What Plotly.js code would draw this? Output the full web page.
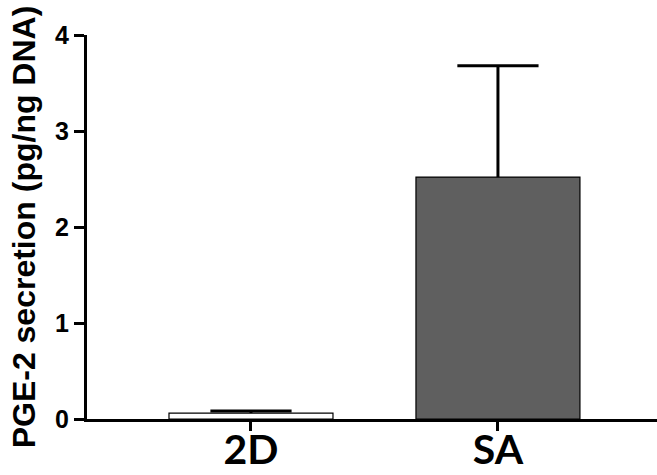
<!DOCTYPE html>
<html><head><meta charset="utf-8">
<script src="https://cdn.plot.ly/plotly-3.0.1.min.js"></script>
<style>html,body{margin:0;padding:0;background:#fff;}#c{width:657px;height:475px;}</style>
</head><body><div id="c"></div>
<script>
const categories = ['2D', 'SA'];
const means = [0.062, 2.52];
const errUp = [0.021, 1.16];
const barColors = ['#ffffff', '#5f5f5f'];
const yTicks = [0, 1, 2, 3, 4];

const xIdx = categories.map((c, i) => i);
const tops = means.map((m, i) => m + errUp[i]);

const bars = {
  type: 'bar',
  x: xIdx,
  y: means,
  width: 0.664,
  marker: {color: barColors, line: {color: '#000', width: 1.2}},
  hoverinfo: 'none'
};

// vertical whisker segments built from the data
const segX = [], segY = [];
xIdx.forEach((x, i) => { segX.push(x, x, null); segY.push(means[i], tops[i], null); });
const whiskers = {
  type: 'scatter', mode: 'lines', x: segX, y: segY,
  line: {color: '#000', width: 3}, hoverinfo: 'none', cliponaxis: false
};
const caps = {
  type: 'scatter', mode: 'markers', x: xIdx, y: tops,
  marker: {symbol: 'line-ew', size: 58, line: {color: '#000', width: 3}},
  hoverinfo: 'none', cliponaxis: false
};

const layout = {
  width: 657, height: 475,
  margin: {l: 87, r: 0, t: 35, b: 56},
  paper_bgcolor: '#fff', plot_bgcolor: '#fff',
  showlegend: false,
  xaxis: {
    range: [-0.664, 1.644],
    tickvals: xIdx, ticktext: categories,
    ticks: 'outside', ticklen: 9, tickwidth: 3, tickcolor: '#000',
    ticklabelstandoff: -16,
    showline: true, linecolor: '#000', linewidth: 3,
    showgrid: false, zeroline: false,
    tickfont: {family: 'Lato, Open Sans, sans-serif', size: 41, color: '#000', weight: 'bold'}
  },
  yaxis: {
    range: [0, 4],
    tickvals: yTicks,
    ticks: 'outside', ticklen: 10, tickwidth: 3, tickcolor: '#000',
    showline: true, linecolor: '#000', linewidth: 3,
    showgrid: false, zeroline: false,
    tickfont: {family: 'Liberation Sans, Arial, sans-serif', size: 25, color: '#000', weight: 'bold'},
    title: {text: 'PGE-2 secretion (pg/ng DNA)', font: {family: 'Liberation Sans, Arial, sans-serif', size: 32, color: '#000', weight: 'bold'}, standoff: 10}
  }
};

Plotly.newPlot('c', [bars, whiskers, caps], layout, {displayModeBar: false, staticPlot: true});
</script>
</body></html>
